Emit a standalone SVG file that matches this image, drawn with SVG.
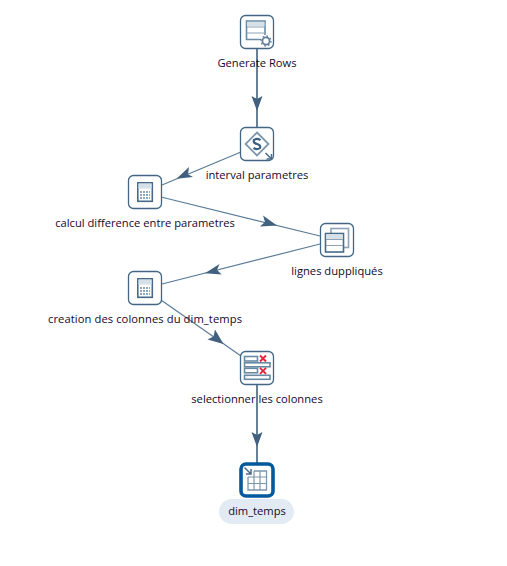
<svg xmlns="http://www.w3.org/2000/svg" width="507" height="566" viewBox="0 0 507 566">
<style>
text{font-family:"Open Sans","Noto Sans",sans-serif;font-size:11.2px;fill:#16082c;text-anchor:middle}
.box{fill:#fff;stroke:#426685;stroke-width:1.3}
.c{fill:none;stroke:#5a7b98;stroke-width:1.2}
.v{fill:none;stroke:#41617f;stroke-width:1.6}
.h{fill:#41617f;stroke:none}
.i{fill:#fff;stroke:#6a8aa3;stroke-width:1.6}
.l{fill:#d5e0e9;stroke:none}
.x{fill:none;stroke:#e8243c;stroke-width:1.9}
</style>
<rect width="507" height="566" fill="#fff"/>
<g id="connectors">
<path class="v" d="M257 48V127"/>
<path class="h" d="M257 111L251.500 96L257 99L262.500 96Z"/>
<path class="c" d="M241 152L162 185"/>
<path class="h" d="M176.500 178.800L189 167L188 174.300L193 177Z"/>
<path class="c" d="M161 197L320 236"/>
<path class="h" d="M277 225.500L263 215.500L265 222L260 226.500Z"/>
<path class="c" d="M320 244L162 284"/>
<path class="h" d="M205 273.300L219.500 264L217 270L221.700 274.500Z"/>
<path class="c" d="M161 300L241 356"/>
<path class="h" d="M223.500 344L215 329.500L213.500 336.500L207.500 339.500Z"/>
<path class="v" d="M257 385V463"/>
<path class="h" d="M257 447L251.500 432L257 435L262.500 432Z"/>
</g>
<g id="node-generate-rows">
<rect class="box" x="240.500" y="15.500" width="33" height="33" rx="5"/>
<path d="M265 35V21H246.500V39.500H261" fill="#fff" stroke="#6a8aa3" stroke-width="1.600"/>
<rect class="l" x="247" y="22" width="17.500" height="4"/>
<path d="M247 27H265M247 33H265" fill="none" stroke="#8ea3b5" stroke-width="1.200"/>
<circle cx="266" cy="41" r="3.600" fill="#fff" stroke="#5f7f9a" stroke-width="1.800"/>
<circle cx="266" cy="41" r="5" fill="none" stroke="#5f7f9a" stroke-width="1.300" stroke-dasharray="1.600 2.300"/>
<text x="257" y="67">Generate Rows</text>
</g>
<g id="node-interval-parametres">
<rect class="box" x="240.500" y="127.500" width="33" height="33" rx="5"/>
<path d="M257 132.500L268.500 144L257 155.500L245.500 144Z" fill="none" stroke="#7d97ad" stroke-width="1.800"/>
<path d="M260.500 140.200Q257 137.800 254 140Q252.800 143 257 144Q261 145 260 148Q257 150.300 253.500 148" fill="none" stroke="#3a5f82" stroke-width="2.200"/>
<path d="M265.500 153L271 158.500M271.500 154V159H266.500" fill="none" stroke="#4b6c8a" stroke-width="1.500"/>
<text x="257" y="179">interval parametres</text>
</g>
<g id="node-calcul-difference">
<rect class="box" x="128.500" y="175.500" width="33" height="33" rx="5"/>
<rect x="137.800" y="182.800" width="14.500" height="18.500" fill="#fff" stroke="#476a88" stroke-width="1.600"/>
<rect class="l" x="138.500" y="183.500" width="13" height="5"/>
<path d="M140 192h10M140 195h10M140 198h10" stroke="#6a8aa3" stroke-width="1.300" stroke-dasharray="2 1" fill="none"/>
<text x="145" y="227">calcul difference entre parametres</text>
</g>
<g id="node-lignes-dupliques">
<rect class="box" x="320.500" y="223.500" width="33" height="33" rx="5"/>
<rect x="331" y="228.500" width="17.500" height="19" fill="#fff" stroke="#8ea3b5" stroke-width="1.600"/>
<rect x="325.500" y="233.500" width="18" height="18.500" fill="#fff" stroke="#476a88" stroke-width="1.600"/>
<rect class="l" x="326.300" y="234.300" width="16.400" height="5"/>
<path d="M326 239.500H343M326 245.500H343" stroke="#8ea3b5" fill="none"/>
<text x="337" y="275">lignes duppliqués</text>
</g>
<g id="node-creation-colonnes">
<rect class="box" x="128.500" y="271.500" width="33" height="33" rx="5"/>
<rect x="137.800" y="278.800" width="14.500" height="18.500" fill="#fff" stroke="#476a88" stroke-width="1.600"/>
<rect class="l" x="138.500" y="279.500" width="13" height="5"/>
<path d="M140 288h10M140 291h10M140 294h10" stroke="#6a8aa3" stroke-width="1.300" stroke-dasharray="2 1" fill="none"/>
<text x="145" y="323" textLength="194">creation des colonnes du dim_temps</text>
</g>
<g id="node-selectionner">
<rect class="box" x="240.500" y="351.500" width="33" height="33" rx="5"/>
<rect class="i" x="244.500" y="356.500" width="13" height="4.500"/>
<rect class="i" x="244.500" y="362.800" width="25.500" height="4"/>
<rect class="i" x="244.500" y="368.300" width="13" height="4.500"/>
<rect class="i" x="244.500" y="375.300" width="25.500" height="4"/>
<path class="x" d="M260 355.500L266 361.500M266 355.500L260 361.500M260 367.800L266 373.800M266 367.800L260 373.800"/>
<text x="257" y="403">selectionner les colonnes</text>
</g>
<g id="node-dim-temps">
<rect x="241" y="464" width="32" height="32" rx="5" fill="#fff" stroke="#04589c" stroke-width="3.600"/>
<path d="M254 471H266.500V490H248V477" fill="#fff" stroke="#7d97ad" stroke-width="1.300"/>
<path d="M248 477H266.500M248 483.500H266.500M254 471V490M260 471V490" stroke="#7d97ad" stroke-width="1.200" fill="none"/>
<path d="M244.500 467.500L250.500 473.500M251 469V474H246" fill="none" stroke="#4b6c8a" stroke-width="1.500"/>
<rect x="219" y="499" width="75" height="25" rx="12.500" fill="#e2ebf4"/>
<text x="257" y="515">dim_temps</text>
</g>
</svg>
